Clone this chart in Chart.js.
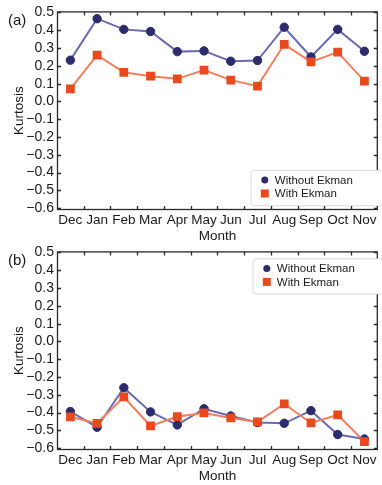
<!DOCTYPE html>
<html>
<head>
<meta charset="utf-8">
<script src="https://cdn.jsdelivr.net/npm/chart.js@4.4.1/dist/chart.umd.min.js"></script>
<style>
  html, body { margin: 0; padding: 0; width: 382px; height: 485px; overflow: hidden; background: #fff; }
  #wrap { position: relative; width: 382px; height: 485px; overflow: hidden; }
  canvas { position: absolute; left: 0; }
  #cA { top: 0; }
  #cB { top: 240px; }
</style>
</head>
<body>
<div id="wrap">
  <canvas id="cA" width="384" height="245"></canvas>
  <canvas id="cB" width="384" height="245"></canvas>
</div>
<script>
// ---- data ----
const months = ['Dec', 'Jan', 'Feb', 'Mar', 'Apr', 'May', 'Jun', 'Jul', 'Aug', 'Sep', 'Oct', 'Nov'];
const yTicks = [-0.6, -0.5, -0.4, -0.3, -0.2, -0.1, 0.0, 0.1, 0.2, 0.3, 0.4, 0.5];
const seriesNames = ['Without Ekman', 'With Ekman'];

const aWithout = [0.232, 0.465, 0.405, 0.393, 0.280, 0.284, 0.226, 0.230, 0.417, 0.250, 0.405, 0.282];
const aWith    = [0.071, 0.260, 0.164, 0.142, 0.127, 0.176, 0.120, 0.086, 0.321, 0.222, 0.277, 0.114];

const bWithout = [-0.394, -0.482, -0.260, -0.396, -0.469, -0.378, -0.419, -0.456, -0.460, -0.389, -0.523, -0.548];
const bWith    = [-0.424, -0.460, -0.312, -0.475, -0.422, -0.402, -0.430, -0.452, -0.351, -0.458, -0.413, -0.563];

// ---- styles ----
const BLUE_LINE = '#6a6ab0', BLUE_PT = '#2c2c6c';
const RED_LINE = '#f2805e', RED_PT = '#e8491d';
const TXT = '#1a1a1a';
const FONT = 'Liberation Sans, Arial, Helvetica, sans-serif';

const fmt = v => {
  const r = Math.round(v * 10) / 10;
  return (r < 0 ? '\u2212' : '') + Math.abs(r).toFixed(1);
};

const framePlugin = {
  id: 'frame',
  beforeDatasetsDraw(chart) {
    const {ctx, chartArea: a, scales: {x, y}} = chart;
    ctx.save();
    ctx.strokeStyle = '#2a2a2a';
    ctx.lineWidth = 1.3;
    ctx.strokeRect(a.left + 0.5, a.top + 0.5, a.right - a.left - 1, a.bottom - a.top - 1);
    const L = 4;
    ctx.beginPath();
    y.ticks.forEach(t => {
      const py = Math.round(y.getPixelForValue(t.value)) + 0.5;
      ctx.moveTo(a.left, py); ctx.lineTo(a.left + L, py);
      ctx.moveTo(a.right, py); ctx.lineTo(a.right - L, py);
    });
    for (let i = 1; i < months.length; i++) {
      const px = Math.round((x.getPixelForValue(i - 1) + x.getPixelForValue(i)) / 2) + 0.5;
      ctx.moveTo(px, a.top); ctx.lineTo(px, a.top + L);
      ctx.moveTo(px, a.bottom); ctx.lineTo(px, a.bottom - L);
    }
    ctx.stroke();
    ctx.restore();
  }
};

const legendPlugin = {
  id: 'boxLegend',
  afterDatasetsDraw(chart, args, opts) {
    const {ctx, chartArea: a} = chart;
    const bx = a.right - opts.width;
    const by = opts.fromTop ? a.top + opts.offset : a.bottom - opts.offset - opts.height;
    ctx.save();
    ctx.shadowColor = 'rgba(0,0,0,0.12)';
    ctx.shadowBlur = 3;
    ctx.fillStyle = '#fff';
    ctx.strokeStyle = '#e2e2e2';
    ctx.lineWidth = 1;
    ctx.beginPath();
    ctx.roundRect(bx + 0.5, by + 0.5, opts.width + 10, opts.height, 3);
    ctx.fill();
    ctx.shadowColor = 'transparent';
    ctx.stroke();
    ctx.font = '11.5px ' + FONT;
    ctx.textBaseline = 'middle';
    const mx = bx + 14, tx = bx + 24;
    const r1 = by + 10, r2 = by + 23.5;
    const ds = chart.data.datasets;
    ctx.fillStyle = ds[0].pointBackgroundColor;
    ctx.beginPath(); ctx.arc(mx, r1, 3.5, 0, Math.PI * 2); ctx.fill();
    ctx.fillStyle = ds[1].pointBackgroundColor;
    ctx.fillRect(mx - 4, r2 - 4, 8, 8);
    ctx.fillStyle = TXT;
    ctx.fillText(ds[0].label, tx, r1 + 0.5);
    ctx.fillText(ds[1].label, tx, r2 + 0.5);
    ctx.restore();
  }
};

const panelLabelPlugin = {
  id: 'panelLabel',
  afterDraw(chart, args, opts) {
    const {ctx} = chart;
    ctx.save();
    ctx.font = '15px ' + FONT;
    ctx.fillStyle = TXT;
    ctx.textBaseline = 'middle';
    ctx.fillText(opts.text, 8, 21);
    ctx.restore();
  }
};

function makeChart(id, without, withE, label, legendOpts) {
  return new Chart(document.getElementById(id), {
    type: 'line',
    data: {
      labels: months,
      datasets: [
        {
          label: seriesNames[0],
          data: without,
          borderColor: BLUE_LINE,
          borderWidth: 2,
          pointStyle: 'circle',
          pointRadius: 4.2,
          pointBackgroundColor: BLUE_PT,
          pointBorderColor: BLUE_PT,
          pointBorderWidth: 1,
          tension: 0,
          order: 1
        },
        {
          label: seriesNames[1],
          data: withE,
          borderColor: RED_LINE,
          borderWidth: 2,
          pointStyle: 'rect',
          pointRadius: 6.2,
          pointBackgroundColor: RED_PT,
          pointBorderColor: RED_PT,
          pointBorderWidth: 0,
          tension: 0,
          order: 0
        }
      ]
    },
    options: {
      responsive: false,
      animation: false,
      devicePixelRatio: 1,
      layout: { padding: { top: 11, right: 1, bottom: 0, left: 0 } },
      plugins: {
        legend: { display: false },
        tooltip: { enabled: false },
        boxLegend: legendOpts,
        panelLabel: { text: label }
      },
      scales: {
        x: {
          type: 'category',
          offset: true,
          grid: { display: false, drawTicks: false },
          border: { display: false },
          ticks: { color: TXT, font: { family: FONT, size: 13.5 }, padding: 2, maxRotation: 0, autoSkip: false },
          title: { display: true, text: 'Month', color: TXT, font: { family: FONT, size: 13.5 }, padding: { top: 0, bottom: 1 } },
          afterFit: s => { s.height = 35; }
        },
        y: {
          min: -0.61,
          max: 0.506,
          grid: { display: false, drawTicks: false },
          border: { display: false },
          afterBuildTicks: s => { s.ticks = yTicks.map(v => ({ value: v })); },
          ticks: { color: TXT, font: { family: FONT, size: 14 }, padding: 3, autoSkip: false, callback: v => fmt(v) },
          title: { display: true, text: 'Kurtosis', color: TXT, font: { family: FONT, size: 13.5 }, padding: { top: 11, bottom: 0 } },
          afterFit: s => { s.width = 57; }
        }
      }
    },
    plugins: [framePlugin, legendPlugin, panelLabelPlugin]
  });
}

makeChart('cA', aWithout, aWith, '(a)', { width: 127, height: 35, offset: 5, fromTop: false });
makeChart('cB', bWithout, bWith, '(b)', { width: 125, height: 35, offset: 7, fromTop: true });
</script>
</body>
</html>
